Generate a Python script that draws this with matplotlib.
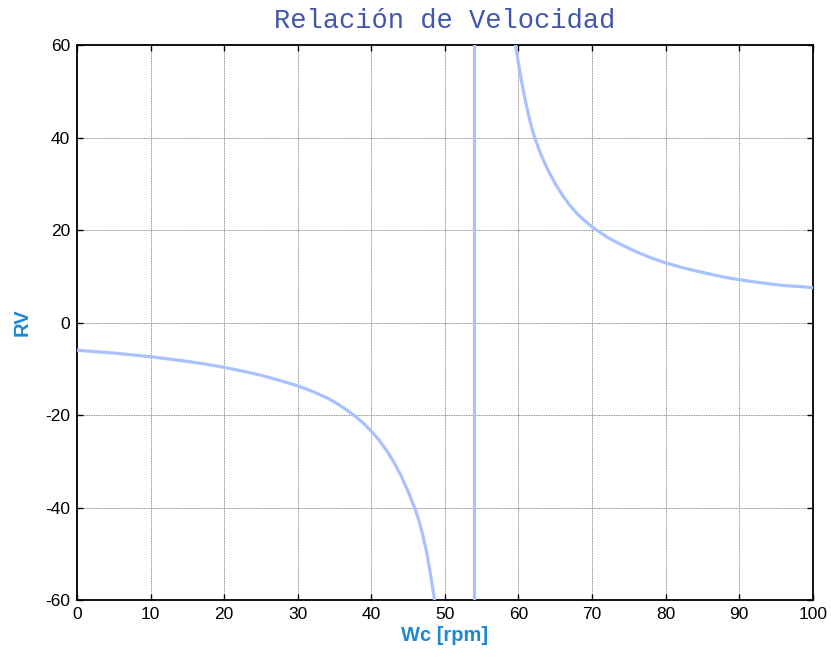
"""
Relación de Velocidad - RV vs Wc, MATLAB-style figure.
"""

import matplotlib
matplotlib.use("Agg")
import matplotlib.pyplot as plt

# ---------------------------------------------------------------------------
# Data
# ---------------------------------------------------------------------------
# branch left of the asymptote
wc_left = [0, 2.5, 5, 7.5, 10, 12.5, 15, 17.5, 20, 22.5, 25, 27.5, 30, 32,
           33, 34, 35, 36, 37, 38, 39, 40, 41, 42, 43, 44, 45, 46, 46.5, 47,
           47.5, 48, 48.3, 48.6]
rv_left = [-6.0, -6.3, -6.6, -7.0, -7.4, -7.9, -8.4, -9.0, -9.7, -10.5,
           -11.4, -12.5, -13.7, -14.9, -15.6, -16.3, -17.2, -18.2, -19.3,
           -20.5, -21.9, -23.5, -25.3, -27.5, -30.0, -33.0, -36.5, -40.5,
           -43.0, -46.0, -49.5, -54.0, -57.0, -60.0]

# the jump across the asymptote (drawn as a vertical line)
wc_jump = [54, 54]
rv_jump = [-60, 60]

# branch right of the asymptote
wc_right = [59.6, 60, 60.5, 61, 61.5, 62, 63, 64, 65, 66, 67, 68, 69, 70,
            72, 74, 76, 78, 80, 82, 84, 86, 88, 90, 92, 94, 96, 98, 100]
rv_right = [60.0, 56.0, 51.5, 47.5, 44.0, 41.0, 36.5, 33.0, 30.0, 27.5,
            25.3, 23.5, 22.0, 20.7, 18.5, 16.8, 15.3, 14.0, 12.9, 12.0,
            11.2, 10.5, 9.8, 9.25, 8.8, 8.4, 8.0, 7.8, 7.55]

XTICKS = list(range(0, 101, 10))
YTICKS = list(range(-60, 61, 20))

LINE_COLOR = "#a9c1fe"
LABEL_COLOR = "#1b8ad3"
TITLE_COLOR = "#4256ad"

# ---------------------------------------------------------------------------
# Figure
# ---------------------------------------------------------------------------
plt.rcParams["font.family"] = ["Liberation Sans", "DejaVu Sans"]
plt.rcParams["axes.unicode_minus"] = False   # MATLAB uses a plain hyphen

fig = plt.figure(figsize=(8.31, 6.58), dpi=100)
ax = fig.add_axes([0.0927, 0.0881, 0.8853, 0.8435])

for xs, ys in [(wc_left, rv_left), (wc_jump, rv_jump), (wc_right, rv_right)]:
    ax.plot(xs, ys, color=LINE_COLOR, linewidth=2.3, zorder=3,
            solid_joinstyle="round")

ax.set_xlim(0, 100)
ax.set_ylim(-60, 60)
ax.set_xticks(XTICKS)
ax.set_yticks(YTICKS)

# MATLAB-ish dotted grid and inward ticks on all sides
ax.grid(True, color="#666666", linestyle=(0, (1, 1)), linewidth=0.6)
ax.tick_params(direction="in", top=True, right=True, length=4, width=1,
               labelsize=12.5, pad=5)
for s in ax.spines.values():
    s.set_linewidth(1.3)

ax.set_title("Relación de Velocidad", family="Liberation Mono",
             fontsize=19.5, color=TITLE_COLOR, pad=12)
ax.set_xlabel("Wc [rpm]", fontsize=14.5, fontweight="bold",
              color=LABEL_COLOR, labelpad=3)
ax.set_ylabel("RV", fontsize=14.5, fontweight="bold",
              color=LABEL_COLOR, labelpad=10)

fig.savefig("out.png", dpi=100)
